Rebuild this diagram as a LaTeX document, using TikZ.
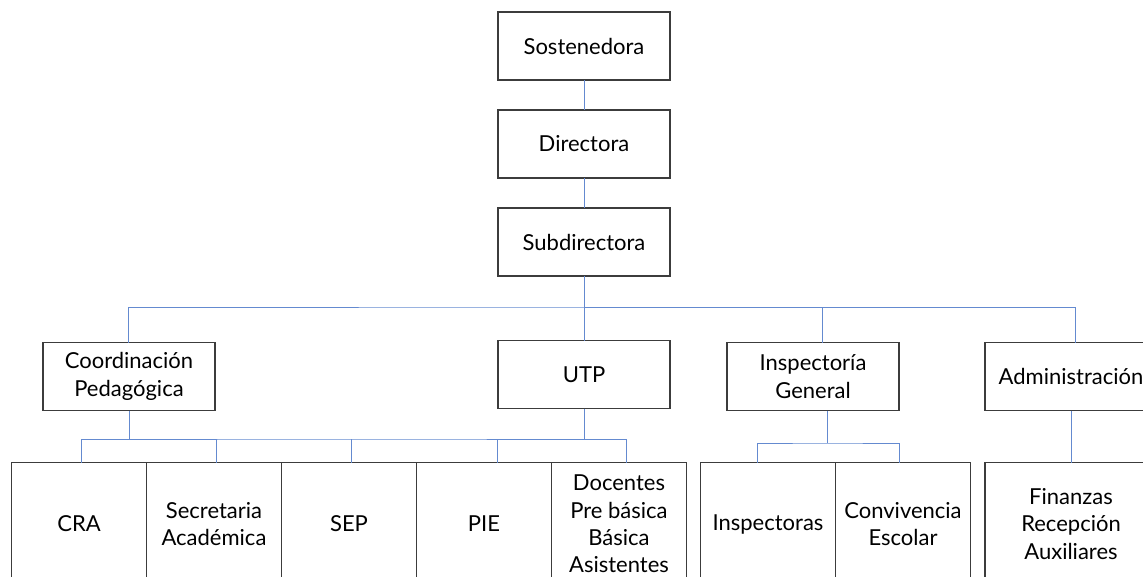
\documentclass[tikz,border=0pt]{standalone}
\usepackage{fontspec}
\setmainfont{Lato}
\usetikzlibrary{positioning}
\definecolor{linkblue}{RGB}{100,138,208}
\definecolor{boxgray}{RGB}{60,60,60}

\begin{document}
\begin{tikzpicture}[x=0.75pt, y=-0.75pt, node distance=22.5pt,
    box/.style={draw=boxgray, line width=0.8pt, rectangle, align=center, minimum width=129pt, minimum height=51pt, inner sep=2pt, outer sep=0pt, font=\fontsize{16.5}{20.5}\selectfont},
    cell/.style={box, minimum width=101.25pt, minimum height=92pt},
    link/.style={draw=linkblue, line width=0.7pt}]
    \useasboundingbox (0,0) rectangle (1143,576);
    \clip (0,0) rectangle (1143,576);

    % Top of the chart
    \node [box] (sost) at (584,46) {Sostenedora};
    \node [box, below=of sost] (dir) {Directora};
    \node [box, below=of dir] (sub) {Subdirectora};

    % Second level
    \node [box] (coord) at (129,376.5) {Coordinación\\Pedagógica};
    \node [box] (utp) at (584,374.5) {UTP};
    \node [box] (insp) at (813,376.5) {Inspectoría\\General};
    \node [box] (admin) at (1071,376.5) {Administración};

    % Bottom level
    \node [cell] (cra) at (79,524) {CRA};
    \node [cell, right=0pt of cra] (secr) {Secretaria\\Académica};
    \node [cell, right=0pt of secr] (sep) {SEP};
    \node [cell, right=0pt of sep] (pie) {PIE};
    \node [cell, right=0pt of pie] (doc) {Docentes\\Pre básica\\Básica\\Asistentes};
    \node [cell] (inspras) at (768,524) {Inspectoras};
    \node [cell, right=0pt of inspras] (conv) {Convivencia\\Escolar};
    \node [cell, minimum width=129pt] (fin) at (1071,524) {Finanzas\\Recepción\\Auxiliares};

    % Buses
    \coordinate (busA) at (584,307);
    \coordinate (busB) at (350,439);
    \coordinate (busC) at (827,443);

    % Links
    \draw [link] (sost) -- (dir);
    \draw [link] (dir) -- (sub);
    \draw [link] (sub) -- (utp);
    \draw [link] ([xshift=-0.75pt]coord.north) |- (busA) -| ([xshift=6.75pt]insp.north);
    \draw [link] (busA) -| ([xshift=3pt]admin.north);

    \draw [link] (coord) -- (coord |- busB);
    \draw [link] (utp) -- (utp |- busB);
    \draw [link] ([xshift=2pt]cra.north) |- (busB) -| ([xshift=5.6pt]doc.north);
    \draw [link] ([xshift=1.6pt]secr.north) -- ([xshift=1.6pt]secr.north |- busB);
    \draw [link] ([xshift=1.9pt]sep.north) -- ([xshift=1.9pt]sep.north |- busB);
    \draw [link] ([xshift=9.75pt]pie.north) -- ([xshift=9.75pt]pie.north |- busB);

    \draw [link] ([xshift=10.5pt]insp.south) -- (busC);
    \draw [link] ([xshift=-8.25pt]inspras.north) |- (busC) -| ([xshift=-3pt]conv.north);
    \draw [link] (admin) -- (fin);
\end{tikzpicture}
\end{document}
